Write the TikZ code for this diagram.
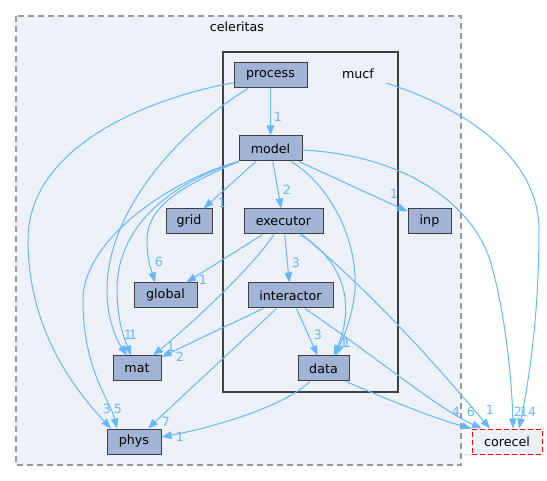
\documentclass[tikz,border=0pt]{standalone}
\usepackage{fontspec}
\setmainfont{DejaVu Sans}
\usepackage{xcolor}
\usepackage{tikz}
\usetikzlibrary{calc}
\usetikzlibrary{arrows.meta}
\definecolor{depblue}{HTML}{63B8FF}
\definecolor{dirfill}{HTML}{A2B4D6}
\definecolor{clfill}{HTML}{EDF0F7}
\definecolor{dirline}{HTML}{404040}
\tikzset{
	every node/.style={font=\fontsize{9.5}{11}\selectfont},
	dir/.style={draw=dirline,fill=dirfill,line width=0.75pt,minimum height=18.75pt,inner sep=0pt},
	dep/.style={draw=depblue,line width=0.75pt,-{Triangle[length=7.5pt,width=5.5pt]}},
	cnt/.style={text=depblue,inner sep=0pt},
}

\begin{document}
\begin{tikzpicture}[x=0.75pt,y=-0.75pt]
					\useasboundingbox (0,0) rectangle (547,481);
					% clusters
					\draw[draw=black!40,line width=1pt,dash pattern=on 4.5pt off 3pt,fill=clfill] (16,16) rectangle (461,465);
					\node (celeritas) at (237,27) {celeritas};
					\draw[draw=dirline,line width=1.5pt,fill=clfill] (223,52) rectangle (398,392);
					\node[minimum width=42pt,minimum height=18.75pt] (mucf) at (358,74) {mucf};
					% directories
					\node[dir,minimum width=54.75pt] (process) at (270.5,75.5) {process};
					\node[dir,minimum width=47.25pt] (model) at (270.5,148.5) {model};
					\node[dir,minimum width=34.5pt] (grid) at (189,221.5) {grid};
					\node[dir,minimum width=59.25pt] (executor) at (283.5,221.5) {executor};
					\node[dir,minimum width=32.25pt] (inp) at (429.5,221.5) {inp};
					\node[dir,minimum width=47.25pt] (global) at (165.5,295.5) {global};
					\node[dir,minimum width=63.75pt] (interactor) at (290.5,295.5) {interactor};
					\node[dir,minimum width=36pt] (mat) at (137,368.5) {mat};
					\node[dir,minimum width=38.25pt] (data) at (323.5,368.5) {data};
					\node[dir,minimum width=40.5pt] (phys) at (134,441.5) {phys};
					\node[dir,minimum width=52.5pt,draw=red,fill=clfill,dash pattern=on 3.75pt off 2.25pt] (corecel) at (507,441.5) {corecel};
					% process
					\draw[dep] (process) -- (model);
					\draw[dep] (process.191) .. controls (140,100) and (28,150) .. (28,240) .. controls (28,330) and (75,390) .. (phys.north -| 111,0);
					\draw[dep] (process.south -| 248,0) .. controls (180,130) and (107,210) .. (107,290) .. controls (107,325) and (120,345) .. (mat.north -| 127,0);
					% model
					\draw[dep] (model.south west) .. controls (180,180) and (117,220) .. (117,290) .. controls (117,325) and (127,345) .. (mat.north -| 131,0);
					\draw[dep] (model.south west) .. controls (170,180) and (83,240) .. (83,300) .. controls (83,370) and (110,400) .. (phys.north -| 117,0);
					\draw[dep] (model.south west) .. controls (185,185) and (147,205) .. (147,240) .. controls (147,262) and (152,272) .. (global.north -| 155,0);
					\draw[dep] (model) -- (grid);
					\draw[dep] (model) -- (executor);
					\draw[dep] (model) -- (inp);
					\draw[dep] (model.south -| 291,0) .. controls (330,185) and (358,240) .. (355,290) .. controls (352,320) and (342,340) .. (data.north -| 336,0);
					\draw[dep] (model.east |- 0,150) .. controls (400,155) and (470,200) .. (490,260) .. controls (505,310) and (512,380) .. (corecel.north -| 513,0);
					\draw[dep] (mucf) .. controls (470,110) and (539,160) .. (539,230) .. controls (539,330) and (525,400) .. (corecel.north -| 519,0);
					% executor
					\draw[dep] (executor) -- (global);
					\draw[dep] (executor) -- (interactor);
					\draw[dep] (executor.south -| 274,0) .. controls (250,270) and (190,325) .. (mat.north -| 153,0);
					\draw[dep] (executor.south -| 300,0) .. controls (345,262) and (355,305) .. (data.north -| 334,0);
					\draw[dep] (executor.south -| 302,0) .. controls (380,300) and (440,370) .. (corecel.north -| 490,0);
					% interactor
					\draw[dep] (interactor) -- (mat);
					\draw[dep] (interactor) -- (phys);
					\draw[dep] (interactor) -- (data);
					\draw[dep] (interactor.south -| 305,0) .. controls (380,360) and (440,410) .. (corecel.north -| 482,0);
					% data
					\draw[dep] (data.south -| 310,0) .. controls (280,410) and (200,430) .. (phys.east |- 0,437);
					\draw[dep] (data.south -| 346,0) .. controls (400,405) and (440,420) .. (corecel.north west);
					% counts
					\node[cnt] (c1) at (278,117) {1};
					\node[cnt] (c2) at (222,203) {1};
					\node[cnt] (c3) at (287,190) {2};
					\node[cnt] (c4) at (394,194) {1};
					\node[cnt] (c5) at (159,262) {6};
					\node[cnt] (c6) at (203,280) {1};
					\node[cnt] (c7) at (296,263) {3};
					\node[cnt] (c8) at (128,335) {1};
					\node[cnt] (c9) at (133,335) {1};
					\node[cnt] (c10) at (171,347) {1};
					\node[cnt] (c11) at (180,357) {2};
					\node[cnt] (c12) at (107,409) {3};
					\node[cnt] (c13) at (118,409) {5};
					\node[cnt] (c14) at (166,422) {7};
					\node[cnt] (c15) at (180,437) {1};
					\node[cnt] (c16) at (318,335) {3};
					\node[cnt] (c17) at (344,343) {1};
					\node[cnt] (c18) at (347,343) {1};
					\node[cnt] (c19) at (456,412) {4};
					\node[cnt] (c20) at (471,412) {6};
					\node[cnt] (c21) at (490,410) {1};
					\node[cnt] (c22) at (518,412) {2};
					\node[cnt] (c23) at (528,412) {14};
				\end{tikzpicture}
\end{document}
